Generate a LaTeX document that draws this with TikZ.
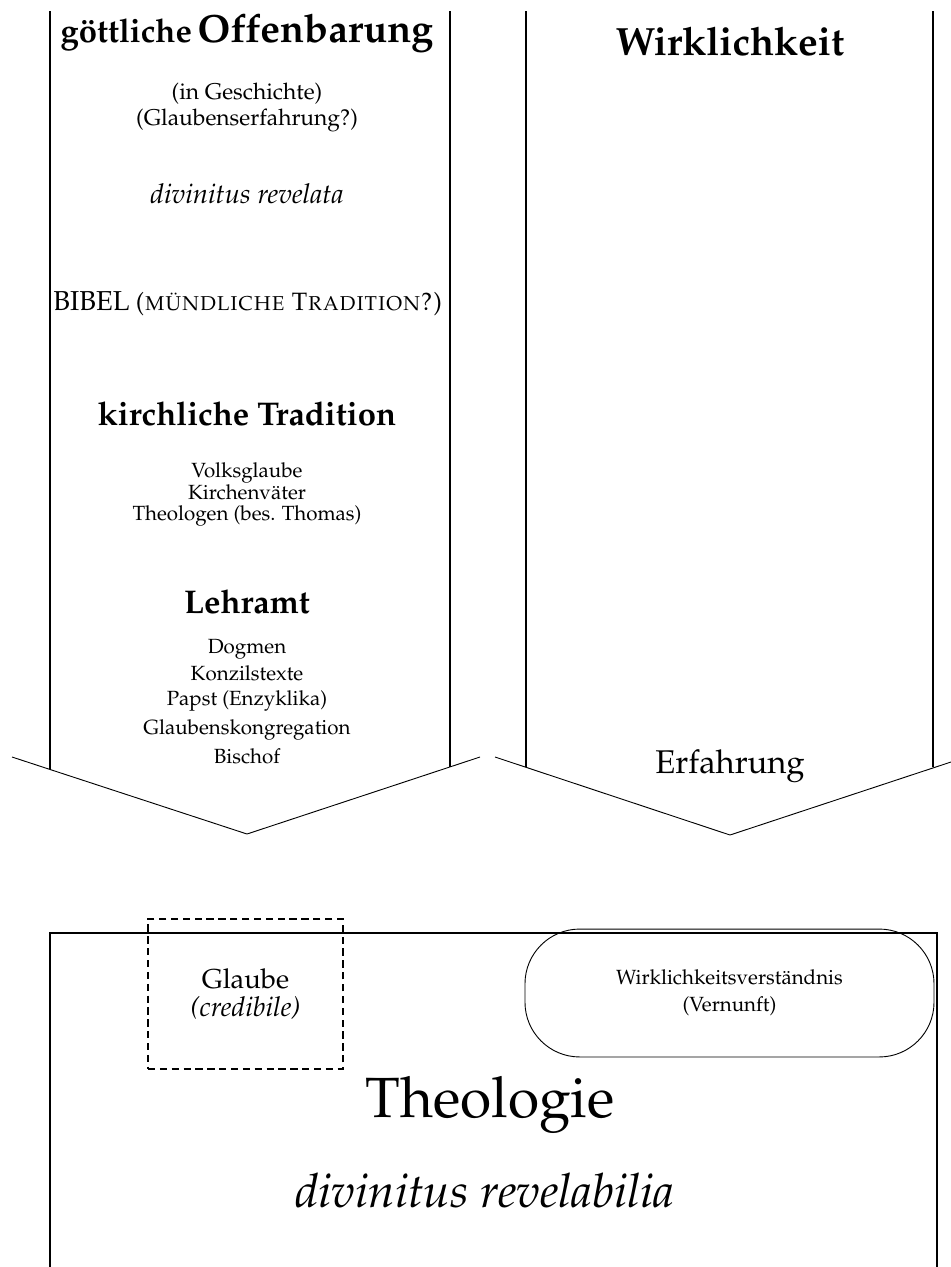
\documentclass[tikz,border=0pt]{standalone}
\usepackage[T1]{fontenc}
\usepackage{mathpazo}
\begin{document}
\begin{tikzpicture}[x=0.4386pt,y=-0.4386pt]
      \tikzset{zeile/.style={anchor=base, inner sep=0pt},
               saeule/.style={thick},
               spitze/.style={thin}}
      \useasboundingbox (0,0) rectangle (951,1267);
%% Pfeile
	%Offenbarung
      	\coordinate (oa) at (50,11);
      	\coordinate (ob) at (50,769);
      	\coordinate (oc) at (450,11);
      	\coordinate (od) at (450,767);
      	\coordinate (ol) at (12,757);
      	\coordinate (os) at (247,834);
      	\coordinate (or) at (480,757);
	%Wirklichkeit
      	\coordinate (wa) at (526,11);
      	\coordinate (wb) at (526,767);
      	\coordinate (wc) at (933,11);
      	\coordinate (wd) at (933,767);
      	\coordinate (wl) at (495,757);
      	\coordinate (ws) at (730,835);
      	\coordinate (wr) at (951,762);
		\draw [saeule] (oa) -- (ob);
		\draw [saeule] (oc) -- (od);
		\draw [spitze] (ol) -- (os) -- (or);
		\draw [saeule] (wa) -- (wb);
		\draw [saeule] (wc) -- (wd);
		\draw [spitze] (wl) -- (ws) -- (wr);
%% Texte links
      	\node[zeile] (gott) at (247,42) {{\Large\bfseries g\"ottliche} {\LARGE\bfseries Offenbarung}};
      	\node[zeile] (gesch) at (247,99) {(in Geschichte)};
      	\node[zeile] (erf) at (247,125) {(Glaubenserfahrung?)};
      	\node[zeile] (revel) at (247,203) {\large\itshape divinitus revelata};
      	\node[zeile] (bibel) at (248,310) {{\large BIBEL} {\fontsize{11pt}{13pt}\selectfont\textsc{(m\"undliche Tradition?)}}};
      	\node[zeile] (trad) at (247,425) {\Large\bfseries kirchliche Tradition};
      	\node[zeile] (volk) at (247,477) {\small Volksglaube};
      	\node[zeile] (vaeter) at (247,499) {\small Kirchenv\"ater};
      	\node[zeile] (theol) at (247,520) {\small Theologen (bes. Thomas)};
      	\node[zeile] (lehr) at (247,613) {\Large\bfseries Lehramt};
      	\node[zeile] (dogm) at (247,653) {\small Dogmen};
      	\node[zeile] (konz) at (247,680) {\small Konzilstexte};
      	\node[zeile] (papst) at (247,705) {\small Papst (Enzyklika)};
      	\node[zeile] (kongr) at (247,734) {\small Glaubenskongregation};
      	\node[zeile] (bisch) at (247,763) {\small Bischof};
%% Texte rechts
      	\node[zeile] (wirkl) at (730,55) {\LARGE\bfseries Wirklichkeit};
      	\node[zeile] (erfahr) at (730,773) {\Large Erfahrung};
%% Theologie
      	\coordinate (ta) at (50,1280);
      	\coordinate (tb) at (50,933);
      	\coordinate (tc) at (937,933);
      	\coordinate (td) at (937,1280);
		\draw [saeule] (ta) -- (tb) -- (tc) -- (td);
      	\node[draw, thick, dash pattern=on 3.2pt off 2pt, minimum width=85.5pt, minimum height=65.8pt, align=center] (glaube) at (245.5,994) {\large Glaube\\{\large\itshape (credibile)}};
      	\node[draw, rounded corners=24pt, minimum width=179.4pt, minimum height=56.1pt, align=center] (verst) at (729.5,993) {\small Wirklichkeitsverst\"andnis\\\small (Vernunft)};
      	\node[zeile] (theo) at (490,1117) {\Huge Theologie};
      	\node[zeile] (revbil) at (485,1207) {\huge\itshape divinitus revelabilia};
\end{tikzpicture}
\end{document}
